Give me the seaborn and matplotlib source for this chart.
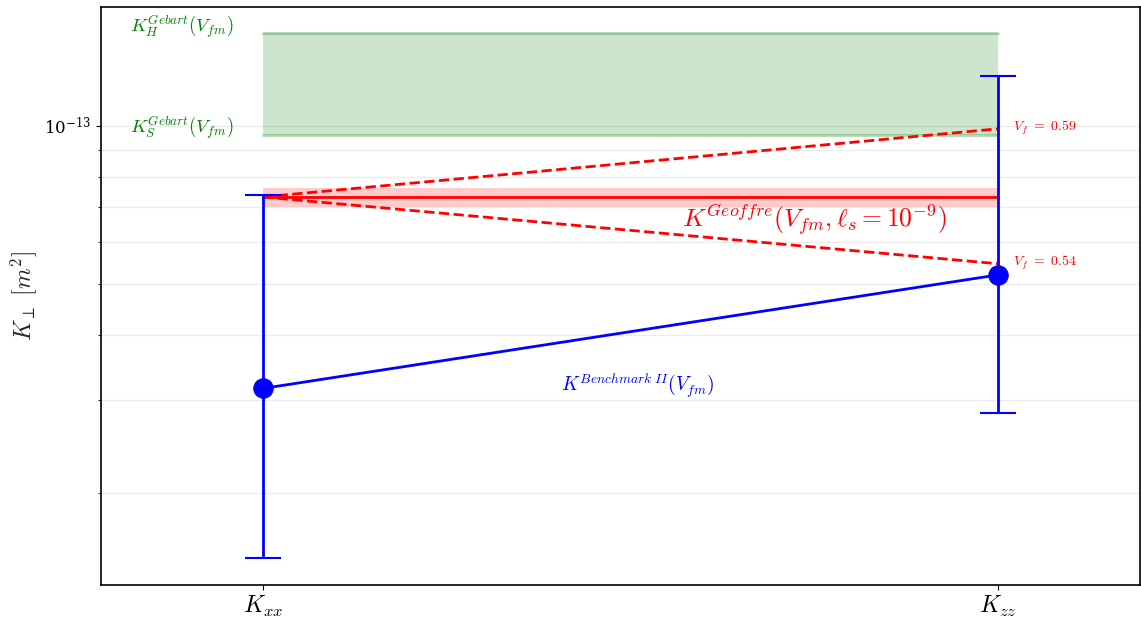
import numpy as np
import pandas as pd
import seaborn as sns
import matplotlib.pyplot as plt
from matplotlib.ticker import NullFormatter

# Values (m^2)
components = ['$K_{xx}$', '$K_{zz}$']
bench_mean = [3.16e-14, 5.20e-14]
bench_low = [1.50e-14, 2.84e-14]
bench_high = [7.39e-14, 1.245e-13]

gebart_h = 1.50e-13
gebart_s = 9.61e-14

geoffre_mean = 7.32e-14
geoffre_low = 7.0e-14
geoffre_high = 7.6e-14
geoffre_vf059 = [7.32e-14, 9.87e-14]
geoffre_vf054 = [7.32e-14, 5.46e-14]

sns.set_style("ticks", {'axes.edgecolor': 'black', 'xtick.color': 'black',
                        'ytick.color': 'black', 'text.color': 'black'})
plt.rcParams['mathtext.fontset'] = 'cm'
plt.rcParams['font.family'] = ['DejaVu Serif']

xpos = np.arange(len(components))
df_bench = pd.DataFrame({'x': xpos, 'K': bench_mean})
df_dash = pd.DataFrame({
    'x': np.concatenate([xpos, xpos]),
    'K': geoffre_vf059 + geoffre_vf054,
    'vf': ['0.59'] * 2 + ['0.54'] * 2,
})

fig, ax = plt.subplots(figsize=(11.41, 6.26), dpi=100)

# Gebart band
ax.fill_between(xpos, gebart_s, gebart_h, color='green', alpha=0.2, lw=0)
ax.plot(xpos, [gebart_h] * 2, color='green', alpha=0.3, lw=2)
ax.plot(xpos, [gebart_s] * 2, color='green', alpha=0.3, lw=2)

# Geoffre band and lines
ax.fill_between(xpos, geoffre_low, geoffre_high, color='red', alpha=0.2, lw=0)
ax.plot(xpos, [geoffre_mean] * 2, color='red', lw=2)
sns.lineplot(data=df_dash, x='x', y='K', units='vf', estimator=None,
             color='red', lw=2, linestyle='--', ax=ax)

# Benchmark II
yerr = [np.array(bench_mean) - np.array(bench_low),
        np.array(bench_high) - np.array(bench_mean)]
ax.errorbar(xpos, bench_mean, yerr=yerr, fmt='none', ecolor='blue',
            elinewidth=2, capsize=13, capthick=1.5)
sns.lineplot(data=df_bench, x='x', y='K', color='blue', lw=2, marker='o',
             markersize=14, markeredgecolor='blue', ax=ax)

ax.set_yscale('log')
ax.set_ylim(1.336e-14, 1.685e-13)
ax.set_xlim(-0.2204, 1.193)
ax.yaxis.set_minor_formatter(NullFormatter())
ax.yaxis.grid(True, which='both', color='#ececec', lw=1)
ax.set_axisbelow(True)

ax.set_xticks(xpos)
ax.set_xticklabels(components, fontsize=17)
ax.tick_params(axis='y', labelsize=12)
ax.set_xlabel('')
ax.set_ylabel(r'$K_\perp\ [m^2]$', fontsize=17)

# Annotations
ax.text(-0.181, gebart_h * 1.03, r'$K_H^{Gebart}(V_{fm})$', color='green',
        fontsize=13.5, va='center', ha='left')
ax.text(-0.181, gebart_s * 1.03, r'$K_S^{Gebart}(V_{fm})$', color='green',
        fontsize=13.5, va='center', ha='left')
ax.text(0.75, 6.6e-14, r'$K^{Geoffre}(V_{fm}, \ell_s = 10^{-9})$', color='red',
        fontsize=18.5, va='center', ha='center')
ax.text(1.02, geoffre_vf059[1] * 1.005, r'$V_f\ =\ 0.59$', color='red',
        fontsize=10, va='center', ha='left')
ax.text(1.02, geoffre_vf054[1] * 1.005, r'$V_f\ =\ 0.54$', color='red',
        fontsize=10, va='center', ha='left')
ax.text(0.51, 3.2e-14, r'$K^{Benchmark\ II}(V_{fm})$', color='blue',
        fontsize=14, va='center', ha='center')

for s in ax.spines.values():
    s.set_linewidth(1.2)

fig.subplots_adjust(left=0.0885, right=0.999, top=0.989, bottom=0.066)
fig.savefig('out.png', dpi=100)
